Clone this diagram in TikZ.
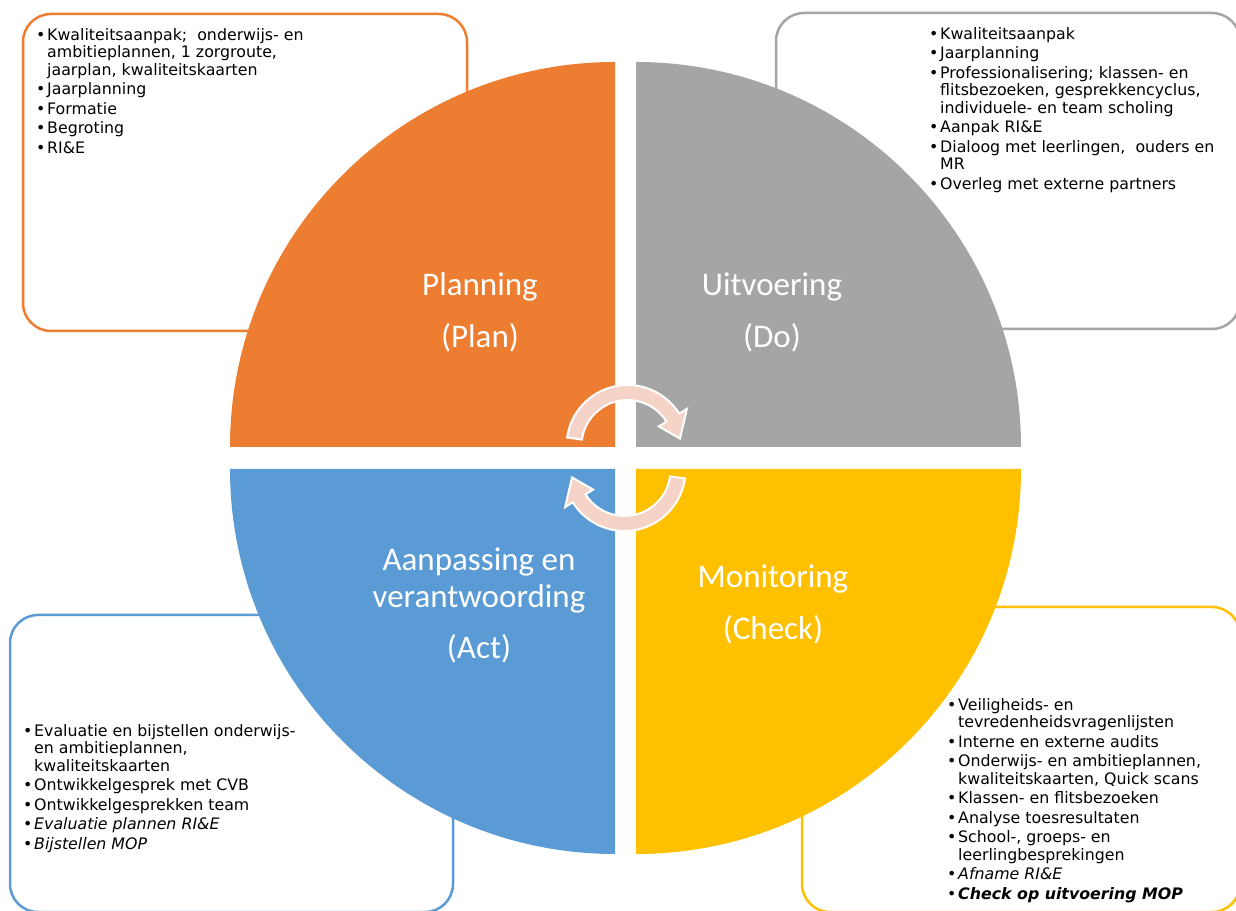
\documentclass[tikz,border=0pt]{standalone}
\usepackage{fontspec}
\setmainfont{DejaVu Sans}
\newfontfamily\calibrifont{Carlito}
\usepackage{tikz}
\definecolor{planorange}{RGB}{237,125,49}
\definecolor{dogray}{RGB}{165,165,165}
\definecolor{checkyellow}{RGB}{255,192,0}
\definecolor{actblue}{RGB}{91,155,213}
\definecolor{arrowpink}{RGB}{246,211,199}
\tikzstyle{infobox}=[rounded corners=28pt,line width=2.5pt,fill=white]
\tikzstyle{phase}=[text=white,align=center,inner sep=0pt,font=\calibrifont\fontsize{33}{37}\selectfont]
\tikzstyle{itemlist}=[anchor=north west,inner sep=0pt,font=\fontsize{15.8}{17.5}\selectfont]
\tikzstyle{cyclearrow}=[fill=arrowpink,draw=white,line width=2pt]
\newcommand{\bul}{\makebox[11pt][l]{\textbullet}}
\newcommand{\cyclepath}{(172:61) arc[start angle=172,end angle=32,radius=61] -- (32:70) -- (8:53) -- (32:37) -- (32:46) arc[start angle=32,end angle=172,radius=46] -- cycle}

\begin{document}
\begin{tikzpicture}[x=1pt,y=1pt]
      \useasboundingbox (0,0) rectangle (1236,910);
      % text boxes behind the circle
      \draw[infobox,draw=planorange] (23,896) rectangle (467,579);
      \draw[infobox,draw=dogray] (776,897) rectangle (1240,581);
      \draw[infobox,draw=actblue] (10,295) rectangle (453,-2);
      \draw[infobox,draw=checkyellow] (802,303) rectangle (1240,-2);
      % quarters
      \fill[planorange] (615,463) -- (230,463) arc[start angle=180,end angle=90,radius=385] -- cycle;
      \fill[dogray] (636,463) -- (636,848) arc[start angle=90,end angle=0,radius=385] -- cycle;
      \fill[actblue] (615,441) -- (615,56) arc[start angle=270,end angle=180,radius=385] -- cycle;
      \fill[checkyellow] (636,441) -- (1021,441) arc[start angle=0,end angle=-90,radius=385] -- cycle;
      % cycle arrows
      \begin{scope}[shift={(627.5,464)}]
        \draw[cyclearrow] \cyclepath;
      \end{scope}
      \begin{scope}[shift={(624.5,440)},rotate=180]
        \draw[cyclearrow] \cyclepath;
      \end{scope}
      % phase names
      \node[phase] at (480,598) (plan) {Planning\\[15pt](Plan)};
      \node[phase] at (772,598) (do) {Uitvoering\\[15pt](Do)};
      \node[phase] at (479,305) (act) {Aanpassing en\\verantwoording\\[14pt](Act)};
      \node[phase] at (773,306) (check) {Monitoring\\[15pt](Check)};
      % lists
      \node[itemlist] at (36,882) (planlist) {\begin{tabular}{@{}l@{}l@{}}
        \bul & Kwaliteitsaanpak;\ \ onderwijs- en\\
             & ambitieplannen, 1 zorgroute,\\
             & jaarplan, kwaliteitskaarten\\[2pt]
        \bul & Jaarplanning\\[2pt]
        \bul & Formatie\\[2pt]
        \bul & Begroting\\[2pt]
        \bul & RI\&E
      \end{tabular}};
      \node[itemlist] at (929,883) (dolist) {\begin{tabular}{@{}l@{}l@{}}
        \bul & Kwaliteitsaanpak\\[2pt]
        \bul & Jaarplanning\\[2pt]
        \bul & Professionalisering; klassen- en\\
             & flitsbezoeken, gesprekkencyclus,\\
             & individuele- en team scholing\\[2pt]
        \bul & Aanpak RI\&E\\[2pt]
        \bul & Dialoog met leerlingen,\ \ ouders en\\
             & MR\\[2pt]
        \bul & Overleg met externe partners
      \end{tabular}};
      \node[itemlist] at (23,186) (actlist) {\begin{tabular}{@{}l@{}l@{}}
        \bul & Evaluatie en bijstellen onderwijs-\\
             & en ambitieplannen,\\
             & kwaliteitskaarten\\[2pt]
        \bul & Ontwikkelgesprek met CVB\\[2pt]
        \bul & Ontwikkelgesprekken team\\[2pt]
        \bul & \textit{Evaluatie plannen RI\&E}\\[2pt]
        \bul & \textit{Bijstellen MOP}
      \end{tabular}};
      \node[itemlist] at (947,212) (checklist) {\begin{tabular}{@{}l@{}l@{}}
        \bul & Veiligheids- en\\
             & tevredenheidsvragenlijsten\\[2pt]
        \bul & Interne en externe audits\\[2pt]
        \bul & Onderwijs- en ambitieplannen,\\
             & kwaliteitskaarten, Quick scans\\[2pt]
        \bul & Klassen- en flitsbezoeken\\[2pt]
        \bul & Analyse toesresultaten\\[2pt]
        \bul & School-, groeps- en\\
             & leerlingbesprekingen\\[2pt]
        \bul & \textit{Afname RI\&E}\\[2pt]
        \bul & \textbf{\textit{Check op uitvoering MOP}}
      \end{tabular}};
    \end{tikzpicture}
\end{document}
